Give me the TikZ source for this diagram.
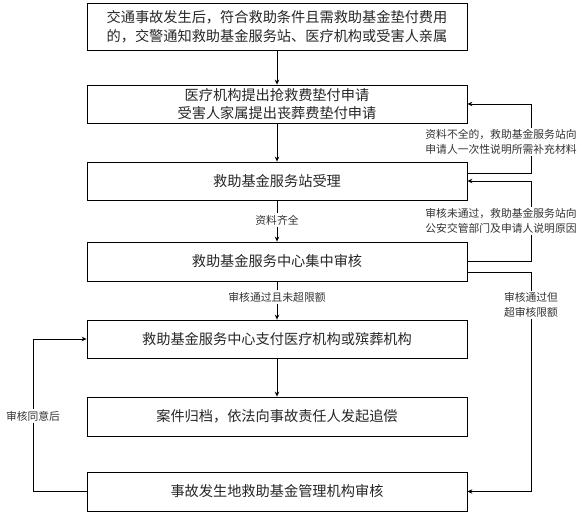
\documentclass[tikz,border=0pt]{standalone}
\usepackage{fontspec}
\newfontfamily\cjk{Noto Sans CJK SC}
\usetikzlibrary{arrows.meta}
\begin{document}
\begin{tikzpicture}[x=1pt,y=-1pt,
  box/.style={draw=black,line width=0.8pt,minimum width=380pt,inner sep=0pt,
    font=\cjk\fontsize{14.2pt}{18.5pt}\selectfont,align=center,text=black!85},
  lbl/.style={fill=white,inner sep=1.5pt,font=\cjk\fontsize{10.8pt}{14.5pt}\selectfont,
    align=center,text=black!80},
  conn/.style={line width=0.7pt,draw=black},
  arr/.style={conn,-{Stealth[length=5pt,width=4.5pt]}}]
\useasboundingbox (0,0) rectangle (582,513);
\node[box,minimum height=47pt] (b1) at (277,26.5)
  {交通事故发生后，符合救助条件且需救助基金垫付费用\\的，交警通知救助基金服务站、医疗机构或受害人亲属};
\node[box,minimum height=38pt] (b2) at (277,104)
  {医疗机构提出抢救费垫付申请\\受害人家属提出丧葬费垫付申请};
\node[box,minimum height=38pt] (b3) at (277,181) {救助基金服务站受理};
\node[box,minimum height=39pt] (b4) at (277,261.5) {救助基金服务中心集中审核};
\node[box,minimum height=38pt] (b5) at (277,339) {救助基金服务中心支付医疗机构或殡葬机构};
\node[box,minimum height=39pt] (b6) at (277,416.5) {案件归档，依法向事故责任人发起追偿};
\node[box,minimum height=39pt] (b7) at (277,491.5) {事故发生地救助基金管理机构审核};
\coordinate (rx) at (531,0);
\coordinate (lx) at (33,0);
% main flow
\draw[arr] (b1) -- (b2);
\draw[arr] (b2) -- (b3);
\draw[arr] (b3) -- (b4);
\draw[arr] (b4) -- (b5);
\draw[arr] (b5) -- (b6);
% feedback loops
\draw[arr] ([yshift=8pt]b3.east) -| (b2.east -| rx) -- (b2.east);
\draw[arr] (b4.east) -| (b3.east -| rx) -- (b3.east);
\draw[arr] ([yshift=-10.5pt]b4.east) -| (b7.east -| rx) -- (b7.east);
\draw[arr] (b7.west) -| (b5.west -| lx) -- (b5.west);
% labels
\node[lbl] (l1) at (501,142) {资料不全的，救助基金服务站向\\申请人一次性说明所需补充材料};
\node[lbl] (l2) at (501,221) {审核未通过，救助基金服务站向\\公安交管部门及申请人说明原因};
\node[lbl] (l3) at (531,305) {审核通过但\\超审核限额};
\node[lbl] (l4) at (33,416) {审核同意后};
\node[lbl] (l5) at (277,220) {资料齐全};
\node[lbl] (l6) at (277,297) {审核通过且未超限额};
\end{tikzpicture}
\end{document}
